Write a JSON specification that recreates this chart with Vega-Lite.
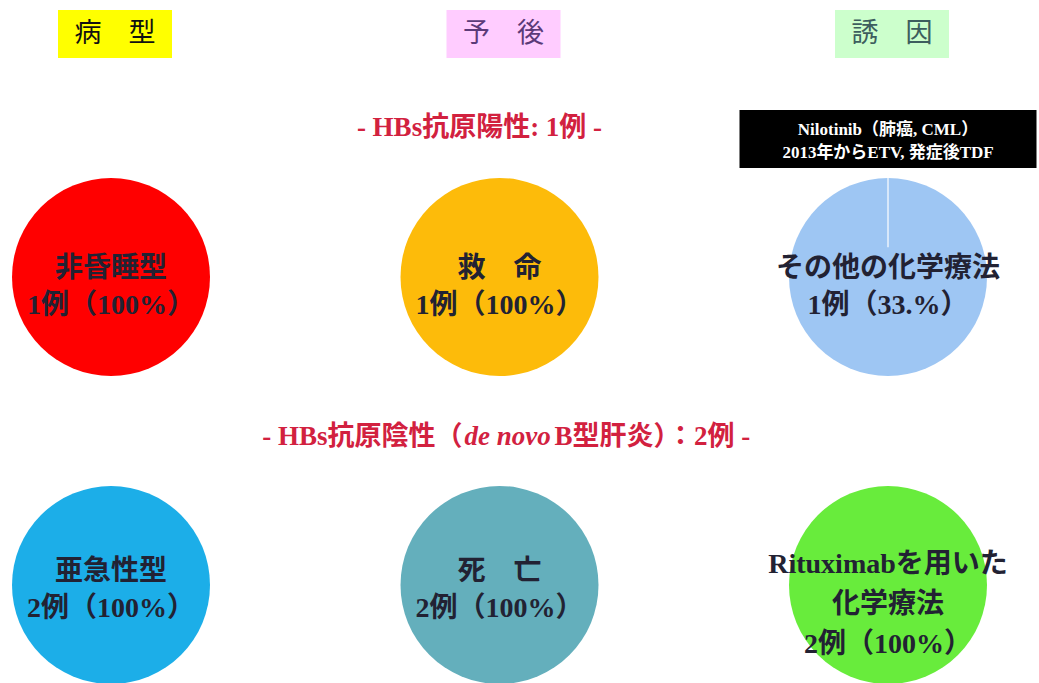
{
  "$schema": "https://vega.github.io/schema/vega-lite/v6.json",
  "width": 1039,
  "height": 683,
  "autosize": {"type": "none"},
  "padding": 0,
  "background": "white",
  "config": {"view": {"stroke": null}},
  "datasets": {
    "pies": [
      {"col": "病型", "grp": "陽性", "name": "非昏睡型", "label": "非昏睡型\n1例（100%）"},
      {"col": "予後", "grp": "陽性", "name": "救命", "label": "救　命\n1例（100%）"},
      {"col": "誘因", "grp": "陽性", "name": "その他の化学療法", "label": "その他の化学療法\n1例（33.%）"},
      {"col": "病型", "grp": "陰性", "name": "亜急性型", "label": "亜急性型\n2例（100%）"},
      {"col": "予後", "grp": "陰性", "name": "死亡", "label": "死　亡\n2例（100%）"},
      {"col": "誘因", "grp": "陰性", "name": "Rituximabを用いた化学療法", "label": "Rituximabを用いた\n化学療法\n2例（100%）"}
    ],
    "headers": [
      {"col": "病型", "grp": "陽性", "text": "病　型"},
      {"col": "予後", "grp": "陽性", "text": "予　後"},
      {"col": "誘因", "grp": "陽性", "text": "誘　因"}
    ]
  },
  "encoding": {
    "x": {"field": "col", "type": "nominal", "scale": {"type": "point", "domain": ["病型", "予後", "誘因"], "range": [111, 888], "padding": 0}, "axis": null},
    "y": {"field": "grp", "type": "nominal", "scale": {"type": "point", "domain": ["陽性", "陰性"], "range": [277, 585], "padding": 0}, "axis": null}
  },
  "layer": [
    {
      "data": {"name": "headers"},
      "mark": {"type": "point", "shape": "M-1,-0.42H1V0.42H-1Z", "size": 12996, "filled": true, "opacity": 1, "yOffset": -243, "xOffset": 4},
      "encoding": {
        "color": {"field": "col", "type": "nominal", "scale": {"domain": ["病型", "予後", "誘因"], "range": ["#FFFF00", "#FFCCFF", "#CCFFCC"]}, "legend": null}
      }
    },
    {
      "data": {"name": "headers"},
      "mark": {"type": "text", "dy": -243, "dx": 4, "fontSize": 27, "font": "Liberation Serif, Noto Sans CJK JP", "baseline": "middle", "align": "center"},
      "encoding": {
        "text": {"field": "text"},
        "color": {"field": "col", "type": "nominal", "scale": {"domain": ["病型", "予後", "誘因"], "range": ["#111111", "#5B3A78", "#3D5E5E"]}, "legend": null}
      }
    },
    {
      "data": {"name": "pies"},
      "mark": {"type": "point", "shape": "circle", "size": 39204, "filled": true, "opacity": 1},
      "encoding": {
        "color": {"field": "name", "type": "nominal", "scale": {"domain": ["非昏睡型", "救命", "その他の化学療法", "亜急性型", "死亡", "Rituximabを用いた化学療法"], "range": ["#FF0000", "#FDBB0A", "#9EC6F3", "#1CAEE8", "#64AFBC", "#68EC3C"]}, "legend": null}
      }
    },
    {
      "data": {"values": [{"col": "誘因", "grp": "陽性"}]},
      "mark": {"type": "point", "shape": "M0,-1V-0.3", "size": 39204, "filled": false, "stroke": "white", "strokeWidth": 1.2, "opacity": 1}
    },
    {
      "data": {"values": [{"col": "誘因", "grp": "陽性"}]},
      "mark": {"type": "point", "shape": "M-1,-0.195H1V0.195H-1Z", "size": 88209, "filled": true, "opacity": 1, "color": "black", "yOffset": -138}
    },
    {
      "data": {"values": [{"col": "誘因", "grp": "陽性", "t": "Nilotinib（肺癌, CML）\n2013年からETV, 発症後TDF"}]},
      "mark": {"type": "text", "dy": -147, "fontSize": 17, "fontWeight": "bold", "font": "Liberation Serif, Noto Sans CJK JP", "color": "white", "lineBreak": "\n", "lineHeight": 23, "baseline": "middle", "align": "center"},
      "encoding": {"text": {"field": "t"}}
    },
    {
      "data": {"name": "pies"},
      "transform": [{"filter": "datum.grp === '陽性'"}],
      "mark": {"type": "text", "dy": -8, "fontSize": 28, "fontWeight": "bold", "font": "Liberation Serif, Noto Sans CJK JP", "color": "#222233", "lineBreak": "\n", "lineHeight": 37, "baseline": "middle", "align": "center"},
      "encoding": {"text": {"field": "label"}}
    },
    {
      "data": {"name": "pies"},
      "transform": [{"filter": "datum.grp === '陰性' && datum.col !== '誘因'"}],
      "mark": {"type": "text", "dy": -13, "fontSize": 28, "fontWeight": "bold", "font": "Liberation Serif, Noto Sans CJK JP", "color": "#222233", "lineBreak": "\n", "lineHeight": 37, "baseline": "middle", "align": "center"},
      "encoding": {"text": {"field": "label"}}
    },
    {
      "data": {"name": "pies"},
      "transform": [{"filter": "datum.grp === '陰性' && datum.col === '誘因'"}],
      "mark": {"type": "text", "dy": -20, "fontSize": 28, "fontWeight": "bold", "font": "Liberation Serif, Noto Sans CJK JP", "color": "#222233", "lineBreak": "\n", "lineHeight": 40, "baseline": "middle", "align": "center"},
      "encoding": {"text": {"field": "label"}}
    },
    {
      "data": {"values": [{"col": "予後", "grp": "陽性", "t": "- HBs抗原陽性: 1例 -"}]},
      "mark": {"type": "text", "dy": -149, "dx": -20, "fontSize": 27, "fontWeight": "bold", "font": "Liberation Serif, Noto Sans CJK JP", "color": "#D2213F", "baseline": "middle", "align": "center"},
      "encoding": {"text": {"field": "t"}}
    },
    {
      "data": {"values": [{"col": "予後", "grp": "陰性", "t": "- HBs抗原陰性（"}]},
      "mark": {"type": "text", "dy": -148, "dx": -37, "fontSize": 27, "fontWeight": "bold", "font": "Liberation Serif, Noto Sans CJK JP", "color": "#D2213F", "baseline": "middle", "align": "right"},
      "encoding": {"text": {"field": "t"}}
    },
    {
      "data": {"values": [{"col": "予後", "grp": "陰性", "t": "de novo"}]},
      "mark": {"type": "text", "dy": -148, "dx": -35, "fontSize": 27, "fontWeight": "bold", "fontStyle": "italic", "font": "Liberation Serif, Noto Sans CJK JP", "color": "#D2213F", "baseline": "middle", "align": "left"},
      "encoding": {"text": {"field": "t"}}
    },
    {
      "data": {"values": [{"col": "予後", "grp": "陰性", "t": "B型肝炎）：2例 -"}]},
      "mark": {"type": "text", "dy": -148, "dx": 55, "fontSize": 27, "fontWeight": "bold", "font": "Liberation Serif, Noto Sans CJK JP", "color": "#D2213F", "baseline": "middle", "align": "left"},
      "encoding": {"text": {"field": "t"}}
    }
  ],
  "resolve": {"scale": {"color": "independent"}}
}
